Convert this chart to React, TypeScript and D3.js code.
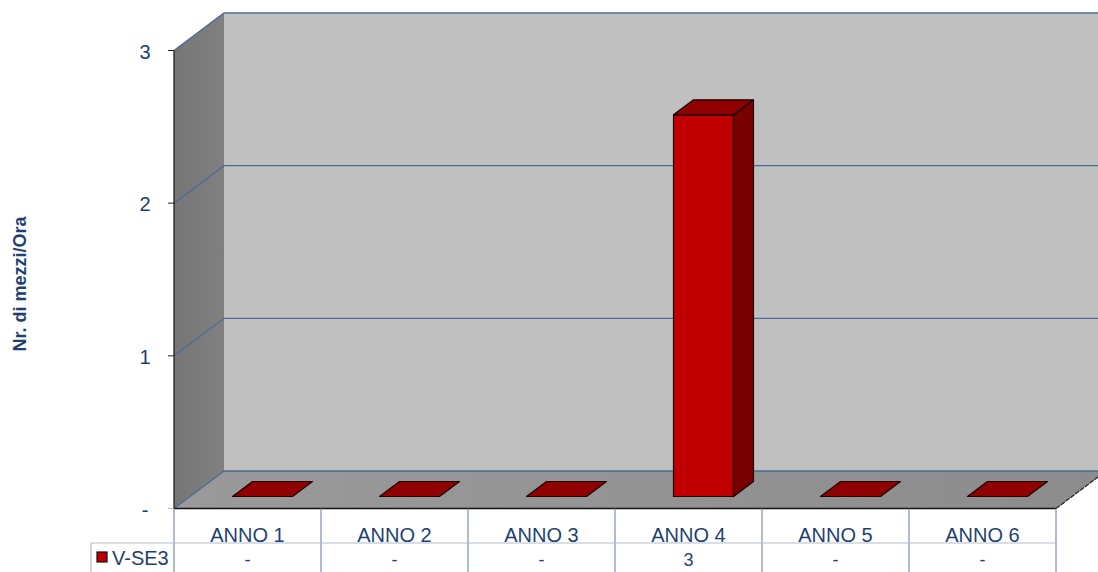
import React from "react";
import * as d3 from "d3";

// Chart data
const categories = ["ANNO 1", "ANNO 2", "ANNO 3", "ANNO 4", "ANNO 5", "ANNO 6"];
const seriesName = "V-SE3";
const seriesValues = [0, 0, 0, 2.5, 0, 0];
const axisTicks = [0, 1, 2, 3];
const axisTitle = "Nr. di mezzi/Ora";

// Layout of the oblique 3D box
const W = 1098;
const H = 572;
const left = 174;
const right = 1056;
const base = 508.5;
const top = 50.5;
const depthX = 50;
const depthY = 37.5;
const barShiftX = 15;
const barShiftY = 12;
const barDepthX = 20;
const barDepthY = 15;
const barWidth = 60;
const tableRow = 543;
const tableLeft = 91;

const ink = "#1f3f70";
const gridColor = "#4a6a96";
const font = "'Liberation Sans', Arial, sans-serif";

const x = d3.scaleBand<string>().domain(categories).range([left, right]);
const y = d3.scaleLinear().domain([0, 3]).range([base, top]);

const poly = (pts: [number, number][]) => pts.map((p) => p.join(",")).join(" ");
const dashZero = (v: number) => (v === 0 ? "-" : d3.format(".0f")(v));

export default function App() {
  const edges = [...categories.map((c) => x(c) as number), right];
  return (
    <svg
      width={W}
      height={H}
      viewBox={`0 0 ${W} ${H}`}
      style={{ position: "absolute", left: 0, top: 0, background: "#fff" }}
      fontFamily={font}
    >
      <defs>
        <linearGradient id="sideWall" x1="0" x2="1" y1="0" y2="0">
          <stop offset="0" stopColor="#767676" />
          <stop offset="1" stopColor="#808080" />
        </linearGradient>
        <linearGradient id="floorFill" x1="0" x2="1" y1="0" y2="0">
          <stop offset="0" stopColor="#9a9a9a" />
          <stop offset="1" stopColor="#8c8c8c" />
        </linearGradient>
      </defs>

      {/* back wall, side wall and floor */}
      <rect x={left + depthX} y={y(3) - depthY} width={right - left} height={y(0) - y(3)} fill="#c0c0c0" />
      <polygon
        points={poly([
          [left, y(0)],
          [left, y(3)],
          [left + depthX, y(3) - depthY],
          [left + depthX, y(0) - depthY],
        ])}
        fill="url(#sideWall)"
      />
      <polygon
        points={poly([
          [left, y(0)],
          [right, y(0)],
          [right + depthX, y(0) - depthY],
          [left + depthX, y(0) - depthY],
        ])}
        fill="url(#floorFill)"
      />

      {/* gridlines wrapping side wall and back wall */}
      {axisTicks.map((t) => (
        <polyline
          key={t}
          points={poly([
            [left, y(t)],
            [left + depthX, y(t) - depthY],
            [right + depthX, y(t) - depthY],
          ])}
          fill="none"
          stroke={gridColor}
          strokeWidth={1.3}
        />
      ))}

      {/* bars */}
      {seriesValues.map((v, i) => {
        const x0 = (x(categories[i]) as number) + (x.bandwidth() - barWidth) / 2 + barShiftX;
        const x1 = x0 + barWidth;
        const yBase = y(0) - barShiftY;
        const yTop = y(v) - barShiftY;
        const stroke = { stroke: "#1a0000", strokeWidth: 1.2, strokeLinejoin: "round" as const };
        return (
          <g key={categories[i]}>
            {v > 0 && (
              <>
                <rect x={x0} y={yTop} width={barWidth} height={yBase - yTop} fill="#c00000" {...stroke} />
                <polygon
                  points={poly([
                    [x1, yTop],
                    [x1 + barDepthX, yTop - barDepthY],
                    [x1 + barDepthX, yBase - barDepthY],
                    [x1, yBase],
                  ])}
                  fill="#780000"
                  {...stroke}
                />
              </>
            )}
            <polygon
              points={poly([
                [x0, yTop],
                [x1, yTop],
                [x1 + barDepthX, yTop - barDepthY],
                [x0 + barDepthX, yTop - barDepthY],
              ])}
              fill="#8f0000"
              {...stroke}
            />
          </g>
        );
      })}

      {/* axis lines and tick marks */}
      <line x1={left} x2={left} y1={y(3)} y2={y(0)} stroke="#222" strokeWidth={1.3} />
      <line x1={left} x2={right} y1={y(0)} y2={y(0)} stroke="#111" strokeWidth={1.5} />
      <line
        x1={right}
        y1={y(0)}
        x2={W}
        y2={y(0) - ((W - right) * depthY) / depthX}
        stroke="#222"
        strokeWidth={1.2}
        strokeDasharray="5 1"
      />
      {axisTicks.map((t) => (
        <g key={t}>
          <line x1={left - 6} x2={left} y1={y(t)} y2={y(t)} stroke={t === 0 ? "#bbb" : "#222"} />
          <text x={145} y={y(t) + 8} textAnchor="middle" fontSize={20} fill={ink}>
            {dashZero(t)}
          </text>
        </g>
      ))}

      {/* axis title */}
      <text
        transform="translate(26,284) rotate(-90)"
        textAnchor="middle"
        fontSize={18}
        fontWeight="bold"
        fill={ink}
      >
        {axisTitle}
      </text>

      {/* data table */}
      {edges.map((e) => (
        <line key={e} x1={e} x2={e} y1={y(0)} y2={H} stroke="#7f8fb0" strokeWidth={1.2} />
      ))}
      <line x1={tableLeft} x2={right} y1={tableRow} y2={tableRow} stroke="#b4bccd" strokeWidth={1.2} />
      <line x1={tableLeft} x2={tableLeft} y1={tableRow} y2={H} stroke="#b4bccd" strokeWidth={1.2} />
      {categories.map((c, i) => {
        const cx = (x(c) as number) + x.bandwidth() / 2;
        return (
          <g key={c} fontSize={20} fill={ink} textAnchor="middle">
            <text x={cx} y={542}>
              {c}
            </text>
            <text x={cx} y={566} fontSize={18}>
              {dashZero(seriesValues[i])}
            </text>
          </g>
        );
      })}
      <rect x={97} y={552} width={10} height={10} fill="#c00000" stroke="#111" strokeWidth={1.2} />
      <text x={112} y={565} fontSize={20} fill={ink}>
        {seriesName}
      </text>
    </svg>
  );
}
